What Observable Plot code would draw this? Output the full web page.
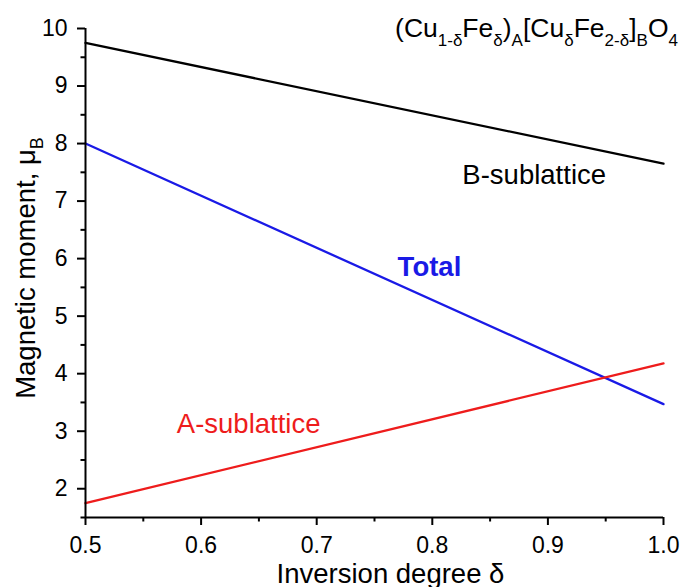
<!DOCTYPE html>
<html><head><meta charset="utf-8">
<script src="https://cdn.jsdelivr.net/npm/d3@7"></script>
<script src="https://cdn.jsdelivr.net/npm/@observablehq/plot@0.6"></script>
<style>body{margin:0;background:#fff} #chart{width:681px;height:587px}</style>
</head><body><div id="chart"></div>
<script>
// ---- data ----
const delta = [0.5, 1.0];
const bSublattice = [9.75, 7.65];
const totalMoment = [8.0, 3.47];
const aSublattice = [1.75, 4.18];
const seriesNames = ["B-sublattice", "Total", "A-sublattice"];
const xTicks = [0.5, 0.6, 0.7, 0.8, 0.9, 1.0];
const xTickLabels = ["0.5", "0.6", "0.7", "0.8", "0.9", "1.0"];
const xMinorTicks = [0.55, 0.65, 0.75, 0.85, 0.95];
const yTicks = [2, 3, 4, 5, 6, 7, 8, 9, 10];
const yTickLabels = ["2", "3", "4", "5", "6", "7", "8", "9", "10"];
const yMinorTicks = [1.5, 2.5, 3.5, 4.5, 5.5, 6.5, 7.5, 8.5, 9.5];
const xLabel = "Inversion degree δ";
const yLabelParts = [["Magnetic moment, μ", false], ["B", true]];
const formulaParts = [["(Cu", false], ["1-δ", true], ["Fe", false], ["δ", true], [")", false], ["A", true],
  ["[Cu", false], ["δ", true], ["Fe", false], ["2-δ", true], ["]", false], ["B", true], ["O", false], ["4", true]];

const series = [bSublattice, totalMoment, aSublattice];
const rows = [];
series.forEach((vals, s) => delta.forEach((d, i) => rows.push({series: seriesNames[s], x: d, y: vals[i]})));

const font = "'Liberation Sans', Arial, Helvetica, sans-serif";
const colors = ["#000000", "#1a1ae6", "#ee1c1c"];
const labelSize = 27.5;

const plot = Plot.plot({
  width: 681, height: 587,
  marginLeft: 85, marginRight: 18, marginTop: 28, marginBottom: 70,
  style: {fontFamily: font, fontSize: "23px", background: "white", color: "black"},
  x: {domain: [0.5, 1.0]},
  y: {domain: [1.5, 10]},
  color: {domain: seriesNames, range: colors},
  marks: [
    Plot.line(rows, {x: "x", y: "y", z: "series", stroke: "series", strokeWidth: 2.3}),
    Plot.axisX({ticks: xMinorTicks, tickSize: 4.5, tickFormat: () => "", label: null, strokeWidth: 2}),
    Plot.axisX({ticks: xTicks, tickSize: 8, tickPadding: 11, fontSize: 23, tickFormat: d => xTickLabels[xTicks.indexOf(d)], label: null, strokeWidth: 2}),
    Plot.axisY({ticks: yMinorTicks, tickSize: 4.5, tickFormat: () => "", label: null, strokeWidth: 2}),
    Plot.axisY({ticks: yTicks, tickSize: 8, tickPadding: 10, fontSize: 23, tickFormat: d => yTickLabels[yTicks.indexOf(d)], label: null, strokeWidth: 2}),
    Plot.ruleX([0.5], {strokeWidth: 2}),
    Plot.ruleY([1.5], {strokeWidth: 2}),
    Plot.text([seriesNames[0]], {x: 0.826, y: 7.30, text: d => d, textAnchor: "start", lineAnchor: "bottom", fontSize: labelSize, fill: colors[0]}),
    Plot.text([seriesNames[1]], {x: 0.770, y: 5.70, text: d => d, textAnchor: "start", lineAnchor: "bottom", fontSize: labelSize, fontWeight: "bold", fill: colors[1]}),
    Plot.text([seriesNames[2]], {x: 0.579, y: 2.97, text: d => d, textAnchor: "start", lineAnchor: "bottom", fontSize: labelSize, fill: colors[2]}),
    Plot.text([xLabel], {frameAnchor: "bottom", dx: 16, dy: 65, text: d => d, lineAnchor: "bottom", fontSize: labelSize})
  ]
});
document.getElementById("chart").appendChild(plot);

const svg = d3.select(plot);
function richText(g, parts, size, subSize, shift) {
  let cur = 0;
  parts.forEach(([t, sub]) => {
    const target = sub ? shift : 0;
    g.append("tspan").attr("dy", target - cur).attr("font-size", sub ? subSize : size).text(t);
    cur = target;
  });
}
const formula = svg.append("text")
  .attr("x", 678).attr("y", 37).attr("text-anchor", "end")
  .attr("font-family", font).attr("font-size", 26.5).attr("fill", "black");
richText(formula, formulaParts, 26.5, 17, 9);

const ylab = svg.append("text")
  .attr("transform", "translate(35,268) rotate(-90)")
  .attr("text-anchor", "middle")
  .attr("font-family", font).attr("font-size", labelSize).attr("fill", "black");
richText(ylab, yLabelParts, labelSize, 18, 8);
</script>
</body></html>
